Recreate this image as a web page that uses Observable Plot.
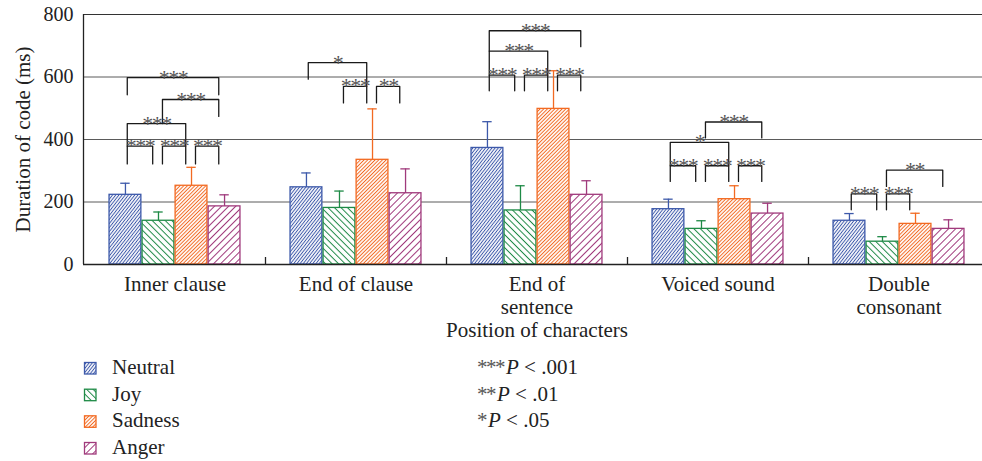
<!DOCTYPE html>
<html>
<head>
<meta charset="utf-8">
<script src="https://cdn.jsdelivr.net/npm/d3@7"></script>
<script src="https://cdn.jsdelivr.net/npm/@observablehq/plot@0.6"></script>
<style>
html, body { margin: 0; padding: 0; background: #fff; overflow: hidden; width: 982px; height: 461px; }
#wrap { position: relative; width: 982px; height: 461px; }
#chart { position: absolute; left: 0; top: 0; }
#legend { position: absolute; left: 0; top: 345px; }
</style>
</head>
<body>
<div id="wrap"><div id="chart"></div><div id="legend"></div></div>
<script>
// ---- data ----
const categories = ["Inner clause", "End of clause", "End of\nsentence", "Voiced sound", "Double\nconsonant"];
const emotions = ["Neutral", "Joy", "Sadness", "Anger"];
const neutralMean = [223, 247, 373, 177, 140];
const joyMean     = [140, 181, 173, 114, 73];
const sadnessMean = [252, 335, 498, 209, 130];
const angerMean   = [186, 228, 223, 163, 114];
const neutralSD = [37, 46, 84, 32, 23];
const joySD     = [28, 54, 79, 26, 16];
const sadnessSD = [59, 163, 122, 43, 34];
const angerSD   = [37, 78, 45, 33, 29];
const yTicks = [0, 200, 400, 600, 800];
const gridValues = [200, 400, 600];
// significance brackets: [category, fromEmotion, toEmotion, top, leftEnd, rightEnd, label]
const brackets = [
  [0, 0, 1, 379, 322, 322, "***"],
  [0, 1, 2, 379, 322, 322, "***"],
  [0, 2, 3, 379, 322, 322, "***"],
  [0, 0, 2, 451, 379, 379, "***"],
  [0, 1, 3, 528, 451, 474, "***"],
  [0, 0, 3, 598, 543, 543, "***"],
  [1, 0, 2, 646, 593, 570, "*"],
  [1, 1, 2, 570, 517, 517, "***"],
  [1, 2, 3, 570, 517, 517, "**"],
  [2, 0, 1, 606, 556, 556, "***"],
  [2, 1, 2, 606, 556, 556, "***"],
  [2, 2, 3, 606, 556, 556, "***"],
  [2, 0, 2, 683, 606, 606, "***"],
  [2, 0, 3, 748, 683, 697, "***"],
  [3, 0, 1, 316, 266, 266, "***"],
  [3, 1, 2, 316, 266, 266, "***"],
  [3, 2, 3, 316, 266, 266, "***"],
  [3, 0, 2, 391, 316, 316, "*"],
  [3, 1, 3, 456, 405, 405, "***"],
  [4, 0, 1, 226, 175, 175, "***"],
  [4, 1, 2, 226, 175, 175, "***"],
  [4, 1, 3, 302, 250, 250, "**"]
];
const pLegend = [["***", " < .001"], ["**", " < .01"], ["*", " < .05"]];
const xTitle = "Position of characters";
const yTitle = "Duration of code (ms)";

// ---- styling ----
const colors = ["#3d59aa", "#1e8a46", "#f26a22", "#a03a7c"];
const patterns = [
  {id: "hatch-neutral", size: 2.5, angle: 38, w: 1.0},
  {id: "hatch-joy", size: 4.6, angle: -45, w: 1.0},
  {id: "hatch-sadness", size: 2.6, angle: 45, w: 1.0},
  {id: "hatch-anger", size: 5.0, angle: 45, w: 1.0}
];
const means = [neutralMean, joyMean, sadnessMean, angerMean];
const sds = [neutralSD, joySD, sadnessSD, angerSD];
const bw = 0.1825;     // bar width in category units
const capHalf = 0.026; // error-bar cap half width
const font = "Liberation Serif, Times New Roman, serif";

const bars = [];
categories.forEach((c, i) => emotions.forEach((e, j) => {
  bars.push({i, j, emo: e, value: means[j][i], top: means[j][i] + sds[j][i],
    x1: i + (j - 2) * bw, x2: i + (j - 1) * bw, xc: i + (j - 1.5) * bw});
}));
const center = (i, j) => i + (j - 1.5) * bw;
const bracketPts = [];
const bracketLabels = [];
brackets.forEach(([i, a, b, top, le, re, lab], k) => {
  const xl = center(i, a) + (a === 0 ? 0.01 : 0.022);
  const xr = center(i, b) - 0.032;
  bracketPts.push({k, x: xl, y: le}, {k, x: xl, y: top}, {k, x: xr, y: top}, {k, x: xr, y: re});
  bracketLabels.push({x: (xl + xr) / 2, y: top, label: lab});
});
const cats = categories.map((c, i) => ({i, c}));
const seps = [0.5, 1.5, 2.5, 3.5];
const tickLen = 7 / 0.3125;

const marks = [
  Plot.ruleY(gridValues, {stroke: "#5a5a5a", strokeWidth: 1}),
  Plot.ruleY([800], {stroke: "#333", strokeWidth: 1.2}),
];
emotions.forEach((e, j) => {
  const d = bars.filter(b => b.j === j);
  marks.push(
    Plot.rectY(d, {x1: "x1", x2: "x2", y1: 0, y2: "value", fill: `url(#${patterns[j].id})`,
      stroke: colors[j], strokeWidth: 1.3, insetLeft: 0.6, insetRight: 0.6}),
    Plot.ruleX(d, {x: "xc", y1: "value", y2: "top", stroke: colors[j], strokeWidth: 1.3}),
    Plot.ruleY(d, {y: "top", x1: b => b.xc - capHalf, x2: b => b.xc + capHalf, stroke: colors[j], strokeWidth: 1.3})
  );
});
marks.push(
  Plot.ruleY([0], {stroke: "#222", strokeWidth: 1.3}),
  Plot.ruleX([-0.5], {y1: 0, y2: 800, stroke: "#222", strokeWidth: 1.3, dx: -1}),
  Plot.ruleX(seps, {y1: 0, y2: tickLen, stroke: "#222", strokeWidth: 1.3}),
  Plot.line(bracketPts, {x: "x", y: "y", z: "k", stroke: "#1a1a1a", strokeWidth: 1.3, curve: "linear"}),
  Plot.text(bracketLabels, {x: "x", y: "y", text: "label", fill: "#555", fontSize: 22, lineAnchor: "middle", dy: 0}),
  Plot.text(cats, {x: "i", y: 0, text: "c", fill: "#222", fontSize: 21, lineAnchor: "top", dy: 10, lineHeight: 1.1}),
  Plot.text([xTitle], {x: 2, y: 0, fill: "#222", fontSize: 21, lineAnchor: "top", dy: 57.5}),
  Plot.text([yTitle], {frameAnchor: "left", rotate: -90, dx: -60, fill: "#222", fontSize: 21,
    lineAnchor: "middle", textAnchor: "middle"})
);

const chart = Plot.plot({
  width: 982,
  height: 345,
  marginLeft: 83,
  marginRight: 0,
  marginTop: 14,
  marginBottom: 81,
  style: {fontFamily: font, fontSize: "20px", color: "#222", background: "white", overflow: "hidden"},
  x: {domain: [-0.5, 4.5], range: [84, 989], axis: null},
  y: {domain: [0, 800], ticks: yTicks, tickSize: 0, tickPadding: 10, label: null},
  marks
});

const defs = d3.select(chart).insert("defs", ":first-child");
patterns.forEach((p, j) => {
  const pat = defs.append("pattern").attr("id", p.id).attr("patternUnits", "userSpaceOnUse")
    .attr("width", p.size).attr("height", p.size).attr("patternTransform", `rotate(${p.angle})`);
  pat.append("rect").attr("width", p.size).attr("height", p.size).attr("fill", "white");
  pat.append("line").attr("x1", p.size / 2).attr("x2", p.size / 2).attr("y1", -1).attr("y2", p.size + 1)
    .attr("stroke", colors[j]).attr("stroke-width", p.w);
});
// tighten the significance asterisks
d3.select(chart).selectAll("text").filter(function() { return /^\*+$/.test(this.textContent); })
  .style("letter-spacing", "-1.5px");
document.getElementById("chart").appendChild(chart);

// ---- legend ----
const lg = d3.select("#legend").append("svg").attr("width", 982).attr("height", 116)
  .style("font-family", font).style("display", "block");
const baselines = [29, 55.7, 82.3, 109];
emotions.forEach((e, j) => {
  lg.append("rect").attr("x", 84.5).attr("y", baselines[j] - 11.5).attr("width", 11.5).attr("height", 11.5)
    .attr("fill", `url(#${patterns[j].id})`).attr("stroke", colors[j]).attr("stroke-width", 1.3);
  lg.append("text").attr("x", 112).attr("y", baselines[j]).attr("font-size", 21).attr("fill", "#222").text(e);
});
pLegend.forEach(([s, t], k) => {
  const tx = lg.append("text").attr("x", 477).attr("y", baselines[k]).attr("font-size", 21).attr("fill", "#222");
  tx.append("tspan").attr("fill", "#555").attr("font-size", 21).style("letter-spacing", "-1.5px").text(s);
  tx.append("tspan").attr("font-style", "italic").attr("dx", 2).text("P");
  tx.append("tspan").text(t);
});
</script>
</body>
</html>
